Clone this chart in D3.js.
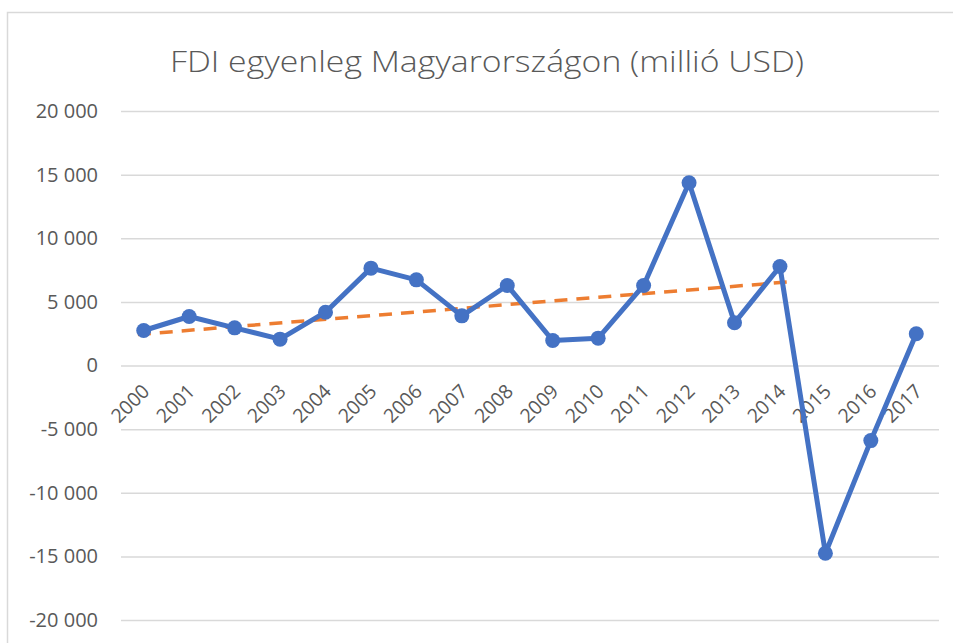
<!DOCTYPE html>
<html>
<head>
<meta charset="utf-8">
<script src="https://cdn.jsdelivr.net/npm/d3@7"></script>
<style>
  body { margin: 0; background: #fff; }
  text { font-family: "Open Sans", "Noto Sans", sans-serif; fill: #595959; }
</style>
</head>
<body>
<div id="chart"></div>
<script>
var width = 953;
var height = 643;

// years on the category axis
var years = [2000, 2001, 2002, 2003, 2004, 2005, 2006, 2007, 2008,
  2009, 2010, 2011, 2012, 2013, 2014, 2015, 2016, 2017];

// FDI balance, million USD
var fdi = [2750, 3850, 2960, 2070, 4190, 7650, 6730, 3900, 6290,
  1965, 2150, 6290, 14360, 3355, 7780, -14750, -5900, 2490];

// dashed trend line: category position (0 = 2000) and value at each end
var trendPos = [-0.13, 14.3];
var trendVal = [2440, 6600];

var yTicks = [-20000, -15000, -10000, -5000, 0, 5000, 10000, 15000, 20000];

var title = "FDI egyenleg Magyarországon (millió USD)";

var margin = { left: 121, right: 14, top: 111, bottom: 23 };

var svg = d3.select("#chart")
  .append("svg")
  .attr("width", width)
  .attr("height", height);

// chart area border (Excel style)
svg.append("rect")
  .attr("x", 7.5)
  .attr("y", 12.5)
  .attr("width", width + 20)
  .attr("height", height + 20)
  .attr("fill", "none")
  .attr("stroke", "#d9d9d9")
  .attr("stroke-width", 1.5);

svg.append("text")
  .attr("x", 487)
  .attr("y", 72)
  .attr("text-anchor", "middle")
  .attr("textLength", 634)
  .attr("lengthAdjust", "spacingAndGlyphs")
  .style("font-size", "30px")
  .style("font-weight", 300)
  .text(title);

var x = d3.scaleBand()
  .domain(years)
  .range([margin.left, width - margin.right]);

// linear version of the band centres, for the trend line
var xi = d3.scaleLinear()
  .domain([0, years.length - 1])
  .range([x(years[0]) + x.bandwidth() / 2, x(years[years.length - 1]) + x.bandwidth() / 2]);

var y = d3.scaleLinear()
  .domain([-20000, 20000])
  .range([height - margin.bottom, margin.top]);

var fmt = function(d) {
  return d3.format(",")(d).replace(/,/g, " ").replace("−", "-");
};

// gridlines + y labels
var yAxis = d3.axisLeft(y)
  .tickValues(yTicks)
  .tickSize(-(width - margin.right - margin.left))
  .tickPadding(23)
  .tickFormat(fmt);

var yg = svg.append("g")
  .attr("transform", "translate(" + margin.left + ",0)")
  .call(yAxis);
yg.select(".domain").remove();
yg.selectAll(".tick line")
  .attr("stroke", "#d9d9d9")
  .attr("stroke-width", 1.5);
yg.selectAll(".tick text")
  .style("font-size", "20px")
  .attr("fill", "#595959");

// category labels, rotated, sitting just under the zero line
svg.append("g")
  .selectAll("text")
  .data(years)
  .enter()
  .append("text")
  .attr("text-anchor", "end")
  .attr("transform", function(d) {
    return "translate(" + (x(d) + x.bandwidth() / 2 + 7) + "," + (y(0) + 27) + ") rotate(-45)";
  })
  .style("font-size", "19.5px")
  .text(function(d) { return d; });

// trend line
var trendData = trendPos.map(function(p, i) { return { p: p, v: trendVal[i] }; });
svg.append("path")
  .datum(trendData)
  .attr("fill", "none")
  .attr("stroke", "#ED7D31")
  .attr("stroke-width", 3.5)
  .attr("stroke-dasharray", "13,9")
  .attr("d", d3.line()
    .x(function(d) { return xi(d.p); })
    .y(function(d) { return y(d.v); }));

// main series
var line = d3.line()
  .x(function(d, i) { return x(years[i]) + x.bandwidth() / 2; })
  .y(function(d) { return y(d); });

svg.append("path")
  .datum(fdi)
  .attr("fill", "none")
  .attr("stroke", "#4472C4")
  .attr("stroke-width", 5)
  .attr("stroke-linejoin", "round")
  .attr("d", line);

svg.append("g")
  .selectAll("circle")
  .data(fdi)
  .enter()
  .append("circle")
  .attr("cx", function(d, i) { return x(years[i]) + x.bandwidth() / 2; })
  .attr("cy", function(d) { return y(d); })
  .attr("r", 7.5)
  .attr("fill", "#4472C4");
</script>
</body>
</html>
